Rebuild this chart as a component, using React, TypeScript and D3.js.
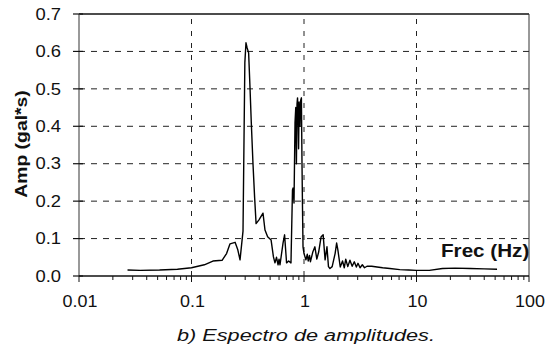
import * as d3 from "d3";

// spectrum (Hz, gal*s)
const freq = [
  0.027, 0.035, 0.052, 0.075, 0.1, 0.13, 0.155, 0.187, 0.205, 0.22, 0.244,
  0.258, 0.27, 0.287, 0.298, 0.305, 0.312, 0.322, 0.331, 0.34, 0.352, 0.364,
  0.375, 0.398, 0.432, 0.45, 0.475, 0.51, 0.535, 0.552, 0.57, 0.588, 0.6,
  0.612, 0.651, 0.672, 0.7, 0.73, 0.766, 0.79, 0.8, 0.815, 0.832, 0.845,
  0.856, 0.867, 0.876, 0.885, 0.895, 0.905, 0.921, 0.935, 0.948, 0.96, 0.97,
  0.98, 1.0, 1.04, 1.07, 1.09, 1.12, 1.14, 1.2, 1.25, 1.3, 1.35, 1.42, 1.48,
  1.54, 1.6, 1.65, 1.7, 1.78, 1.89, 1.95, 2.0, 2.1, 2.2, 2.28, 2.35, 2.45,
  2.56, 2.68, 2.8, 2.92, 3.02, 3.15, 3.3, 3.45, 3.63, 4.0, 4.46, 5.0, 5.8,
  7.1, 8.5, 10, 13, 17, 22, 30, 40, 52,
];
const amp = [
  0.016, 0.015, 0.016, 0.018, 0.022, 0.03, 0.04, 0.042, 0.06, 0.086, 0.09,
  0.07, 0.043, 0.12, 0.57, 0.623, 0.61, 0.596, 0.505, 0.41, 0.3, 0.21, 0.14,
  0.15, 0.168, 0.123, 0.105, 0.096, 0.051, 0.035, 0.05, 0.03, 0.045, 0.03,
  0.088, 0.11, 0.035, 0.04, 0.035, 0.23, 0.235, 0.195, 0.41, 0.45, 0.3, 0.46,
  0.476, 0.44, 0.34, 0.465, 0.4, 0.47, 0.476, 0.3, 0.18, 0.078, 0.06, 0.043,
  0.058, 0.04, 0.055, 0.038, 0.065, 0.078, 0.045, 0.064, 0.105, 0.11, 0.043,
  0.078, 0.025, 0.02, 0.025, 0.06, 0.088, 0.07, 0.024, 0.04, 0.022, 0.045,
  0.025, 0.042, 0.026, 0.038, 0.024, 0.034, 0.022, 0.03, 0.022, 0.026, 0.026,
  0.024, 0.022, 0.02, 0.017, 0.016, 0.015, 0.015, 0.02, 0.021, 0.02, 0.019,
  0.018,
];

const xTicks = [0.01, 0.1, 1, 10, 100];
const xTickLabels = ["0.01", "0.1", "1", "10", "100"];
const yTicks = [0, 0.1, 0.2, 0.3, 0.4, 0.5, 0.6, 0.7];
const yTickLabels = ["0.0", "0.1", "0.2", "0.3", "0.4", "0.5", "0.6", "0.7"];

const FONT = "'Liberation Sans', Arial, sans-serif";
const INK = "#111";

export default function App() {
  const x = d3.scaleLog().domain([0.01, 100]).range([79, 529]);
  const y = d3.scaleLinear().domain([0, 0.7]).range([276, 14]);

  const pts = freq.map((f, i) => [f, amp[i]] as [number, number]);
  const line = d3
    .line<[number, number]>()
    .x((d) => x(d[0]))
    .y((d) => y(d[1]));

  // minor log ticks
  const minor: number[] = [];
  for (let e = -2; e < 2; e++) {
    for (let k = 2; k <= 9; k++) minor.push(k * Math.pow(10, e));
  }

  const [x0, x1] = x.range();
  const [y0, y1] = y.range();

  return (
    <svg
      width={554}
      height={350}
      style={{ position: "absolute", left: 0, top: 0, background: "#fff" }}
      fontFamily={FONT}
    >
      {/* horizontal grid */}
      {yTicks.slice(1, -1).map((t) => (
        <line
          key={"gy" + t}
          x1={x0}
          x2={x1}
          y1={y(t)}
          y2={y(t)}
          stroke="#222"
          strokeWidth={1}
          strokeDasharray="6,6"
        />
      ))}
      {/* vertical grid */}
      {xTicks.slice(1, -1).map((t) => (
        <line
          key={"gx" + t}
          x1={x(t)}
          x2={x(t)}
          y1={y0}
          y2={y1}
          stroke="#222"
          strokeWidth={1}
          strokeDasharray="5,7"
        />
      ))}

      {/* frame */}
      <line x1={x0} x2={x1} y1={y1} y2={y1} stroke="#111" strokeWidth={1.5} />
      <line x1={x1} x2={x1} y1={y1} y2={y0} stroke="#333" strokeWidth={1} />
      <line x1={x0} x2={x0} y1={y0} y2={y1} stroke="#777" strokeWidth={1.5} />
      <line x1={x0} x2={x1} y1={y0} y2={y0} stroke="#111" strokeWidth={1.5} />

      {/* x ticks */}
      {minor.map((t) => (
        <line
          key={"mx" + t}
          x1={x(t)}
          x2={x(t)}
          y1={y0}
          y2={y0 + 4}
          stroke="#111"
          strokeWidth={1}
        />
      ))}
      {xTicks.map((t) => (
        <line
          key={"tx" + t}
          x1={x(t)}
          x2={x(t)}
          y1={y0}
          y2={y0 + 6}
          stroke="#111"
          strokeWidth={1}
        />
      ))}
      {/* y ticks */}
      {yTicks.map((t) => (
        <line
          key={"ty" + t}
          x1={x0 - 6}
          x2={x0 + 4}
          y1={y(t)}
          y2={y(t)}
          stroke="#111"
          strokeWidth={1.2}
        />
      ))}

      {/* spectrum */}
      <path
        d={line(pts) ?? ""}
        fill="none"
        stroke="#000"
        strokeWidth={1.4}
        strokeLinejoin="round"
      />

      {/* tick labels */}
      {yTicks.map((t, i) => (
        <g key={"ly" + t} transform={`translate(61,${y(t)}) scale(1.15,1)`}>
          <text textAnchor="end" dy="0.36em" fontSize={16} fill={INK}>
            {yTickLabels[i]}
          </text>
        </g>
      ))}
      {xTicks.map((t, i) => (
        <g key={"lx" + t} transform={`translate(${x(t) + 1},307) scale(1.12,1)`}>
          <text textAnchor="middle" fontSize={16} fill={INK}>
            {xTickLabels[i]}
          </text>
        </g>
      ))}

      {/* axis titles */}
      <g transform="translate(27,144) rotate(-90) scale(1.21,1)">
        <text textAnchor="middle" fontSize={16} fontWeight="bold" fill={INK}>
          Amp (gal*s)
        </text>
      </g>
      <g transform="translate(441,257) scale(1.18,1)">
        <text fontSize={17.5} fontWeight="bold" fill={INK}>
          Frec (Hz)
        </text>
      </g>

      {/* caption */}
      <text
        x={177}
        y={341}
        fontSize={16}
        fontStyle="italic"
        fill={INK}
        textLength={258}
        lengthAdjust="spacingAndGlyphs"
      >
        b)  Espectro de amplitudes.
      </text>
    </svg>
  );
}
